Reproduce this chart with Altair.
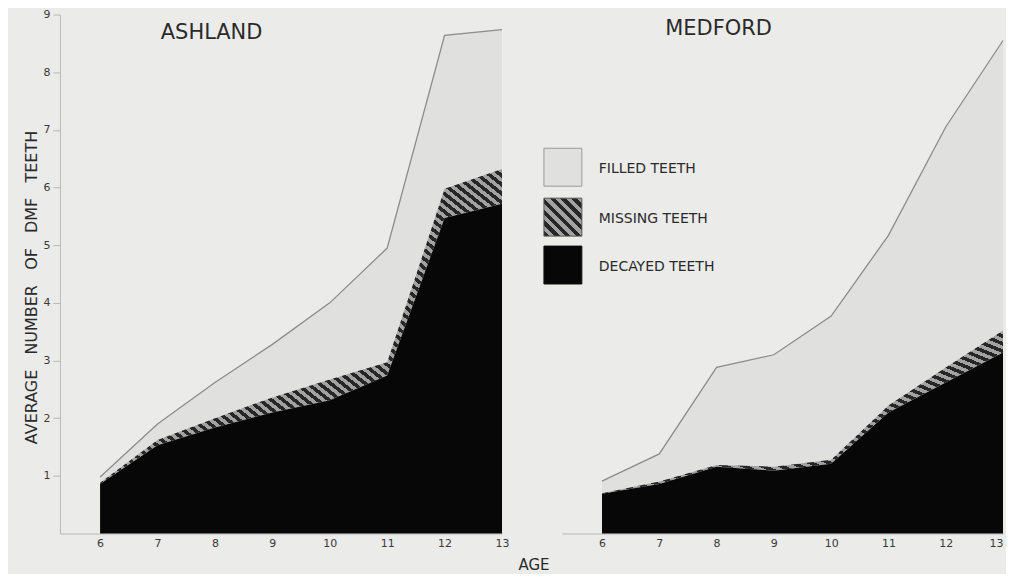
import altair as alt
import pandas as pd

ages = [6, 7, 8, 9, 10, 11, 12, 13]
age_ticks = [6, 7, 8, 9, 10, 11, 12, 13]
y_ticks = [1, 2, 3, 4, 5, 6, 7, 8, 9]

ash_decayed = [0.86, 1.53, 1.84, 2.10, 2.31, 2.74, 5.47, 5.72]
ash_missing = [0.02, 0.09, 0.16, 0.26, 0.36, 0.23, 0.51, 0.60]
ash_filled = [0.10, 0.28, 0.62, 0.92, 1.33, 1.98, 2.66, 2.42]

med_decayed = [0.69, 0.86, 1.16, 1.09, 1.21, 2.10, 2.62, 3.14]
med_missing = [0.01, 0.04, 0.03, 0.07, 0.07, 0.12, 0.26, 0.38]
med_filled = [0.21, 0.48, 1.69, 1.94, 2.49, 2.95, 4.17, 5.03]

legend_labels = ["FILLED TEETH", "MISSING TEETH", "DECAYED TEETH"]
x_title = "AGE"
y_title = "AVERAGE\u00a0\u00a0\u00a0NUMBER\u00a0\u00a0\u00a0OF\u00a0\u00a0\u00a0DMF\u00a0\u00a0\u00a0TEETH"

BG = "#ebebea"
FILLED = "#e0e0df"
DECAYED = "#070707"
INK = "#2a2a2a"
FONT = "DejaVu Sans"


def hatch(n, dark="#262626", light="#a2a2a2"):
    stops = []
    for i in range(n):
        a, b, c = i / n, (i + 0.5) / n, (i + 1) / n
        stops += [
            {"offset": a, "color": dark},
            {"offset": b, "color": dark},
            {"offset": b, "color": light},
            {"offset": c, "color": light},
        ]
    return {"gradient": "linear", "x1": 0, "y1": 1, "x2": 1, "y2": 0, "stops": stops}


def frame(decayed, missing, filled):
    df = pd.DataFrame({"age": ages, "dec": decayed, "mis": missing, "fil": filled})
    df["zero"] = 0.0
    df["dec_top"] = df["dec"]
    df["mis_top"] = df["dec"] + df["mis"]
    df["total"] = df["mis_top"] + df["fil"]
    return df


W1, W2, H = 443, 442, 520


def panel(df, name, width, show_y, tx, ty, stripes, legend):
    xax = alt.Axis(
        values=age_ticks, title=None, grid=False, domain=True, domainColor="#b8b8b8",
        ticks=False, labelPadding=4, labelFontSize=11, labelFont=FONT,
        labelColor="#3a3a3a", labelFlush=(not show_y),
    )
    if show_y:
        yax = alt.Axis(
            values=y_ticks, grid=False, domainColor="#b8b8b8", tickColor="#b8b8b8",
            tickSize=7, labelPadding=3, labelFontSize=11, labelFont=FONT,
            labelColor="#3a3a3a",
            title=y_title,
            titleFont=FONT, titleFontSize=16, titleFontWeight="normal", titleColor=INK,
            titleX=-28, titleY=273, titleAngle=270, titleAlign="center",
            titleBaseline="middle",
        )
    else:
        yax = None
    xs = alt.Scale(domain=[5.3, 13], nice=False, zero=False)
    ys = alt.Scale(domain=[0, 9], nice=False)
    X = alt.X("age:Q", scale=xs, axis=xax)

    def Y(f):
        return alt.Y(f + ":Q", scale=ys, axis=yax)

    base = alt.Chart(df)
    filled = base.mark_area(fill=FILLED).encode(x=X, y=Y("total"), y2="mis_top:Q")
    top = base.mark_line(color="#8c8c8c", strokeWidth=1.3).encode(x=X, y=Y("total"))
    miss = base.mark_area(fill=hatch(stripes)).encode(x=X, y=Y("mis_top"), y2="dec_top:Q")
    dec = base.mark_area(fill=DECAYED).encode(x=X, y=Y("dec_top"), y2="zero:Q")
    title = alt.Chart(pd.DataFrame({"t": [name]})).mark_text(
        font=FONT, fontSize=21, color=INK, align="center", baseline="middle"
    ).encode(text="t:N", x=alt.value(tx), y=alt.value(ty))
    layers = [filled, top, miss, dec, title]

    if legend:
        fills = [FILLED, hatch(7), DECAYED]
        strokes = ["#9a9a9a", "#555555", "#111111"]
        tops = [134, 184, 232]
        for lab, f, s, t in zip(legend_labels, fills, strokes, tops):
            ld = pd.DataFrame({"label": [lab]})
            sq = alt.Chart(ld).mark_rect(fill=f, stroke=s, strokeWidth=1).encode(
                x=alt.value(-18), x2=alt.value(20), y=alt.value(t), y2=alt.value(t + 38)
            )
            tx_ = alt.Chart(ld).mark_text(
                font=FONT, fontSize=14, color=INK, align="left", baseline="middle"
            ).encode(text="label:N", x=alt.value(37), y=alt.value(t + 21))
            layers += [sq, tx_]
        age = alt.Chart(pd.DataFrame({"t": [x_title]})).mark_text(
            font=FONT, fontSize=15, color=INK, align="center", baseline="middle"
        ).encode(text="t:N", x=alt.value(-28), y=alt.value(H + 32))
        layers.append(age)

    return alt.layer(*layers).properties(width=width, height=H)


ash = panel(frame(ash_decayed, ash_missing, ash_filled), "ASHLAND", W1, True, 152, 18, 70, False)
med = panel(frame(med_decayed, med_missing, med_filled), "MEDFORD", W2, False, 157, 14, 43, True)

chart = alt.hconcat(ash, med, spacing=60, bounds="flush").properties(
    padding={"left": 16, "top": 0, "right": 0, "bottom": 0},
    background=BG,
).configure_view(stroke=None)

chart.save("out.html", embed_options={"renderer": "svg", "actions": False})
